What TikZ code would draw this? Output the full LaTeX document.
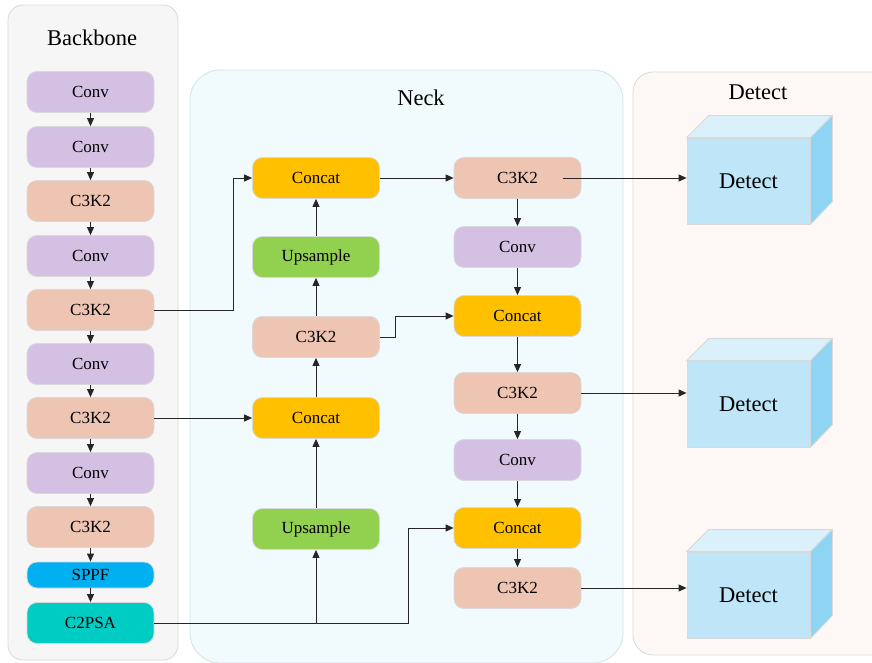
\documentclass[tikz,border=0pt]{standalone}
\usepackage{fontspec}
\setmainfont{Liberation Serif}
\usetikzlibrary{arrows.meta,calc}
\definecolor{convc}{HTML}{D4C0E2}
\definecolor{c3kc}{HTML}{EEC4B3}
\definecolor{sppfc}{HTML}{00B0F0}
\definecolor{psac}{HTML}{00CCC4}
\definecolor{catc}{HTML}{FFC000}
\definecolor{upc}{HTML}{92D050}
\definecolor{detfront}{HTML}{BEE6F8}
\definecolor{dettop}{HTML}{DAF0FB}
\definecolor{detside}{HTML}{8DD5F3}
\definecolor{boxline}{HTML}{D9D9D9}
\definecolor{bbfill}{HTML}{F6F6F6}
\definecolor{neckfill}{HTML}{F1FAFD}
\definecolor{neckline}{HTML}{D5E2E8}
\definecolor{detfill}{HTML}{FDF8F6}
\begin{document}
\begin{tikzpicture}[x=1pt,y=-1pt,
  blk/.style={draw=boxline, line width=0.8pt, rounded corners=10pt, minimum width=127pt, minimum height=41pt, inner sep=0pt, font=\fontsize{17}{20}\selectfont},
  conv/.style={blk, fill=convc},
  ck/.style={blk, fill=c3kc},
  cat/.style={blk, fill=catc},
  ups/.style={blk, fill=upc},
  ttl/.style={font=\fontsize{22.5}{26}\selectfont, inner sep=0pt},
  detbox/.style={draw=boxline, line width=0.8pt, fill=detfront, minimum width=123pt, minimum height=86pt, inner sep=0pt, font=\fontsize{22.5}{26}\selectfont},
  arr/.style={-{Triangle[length=8pt,width=7pt]}, line width=0.9pt, draw=black!85}
]
\useasboundingbox (0,0) rectangle (872,663);
% panels
\draw[boxline, fill=bbfill, line width=0.8pt, rounded corners=15pt] (8,5) rectangle (178,660);
\draw[neckline, fill=neckfill, line width=0.8pt, rounded corners=30pt] (190,70) rectangle (623,663);
\draw[boxline, fill=detfill, line width=0.8pt, rounded corners=20pt] (633,72) rectangle (900,655);
\node[ttl] (tbb) at (92,38) {Backbone};
\node[ttl] (tneck) at (421,98) {Neck};
\node[ttl] (tdet) at (758,92) {Detect};
% backbone
\node[conv] (b1) at (90.5,92) {Conv};
\node[conv] (b2) at (90.5,147) {Conv};
\node[ck] (b3) at (90.5,201) {C3K2};
\node[conv] (b4) at (90.5,256) {Conv};
\node[ck] (b5) at (90.5,310) {C3K2};
\node[conv] (b6) at (90.5,364) {Conv};
\node[ck] (b7) at (90.5,418) {C3K2};
\node[conv] (b8) at (90.5,473) {Conv};
\node[ck] (b9) at (90.5,527) {C3K2};
\node[blk, fill=sppfc, minimum height=26pt] (b10) at (90.5,575) {SPPF};
\node[blk, fill=psac] (b11) at (90.5,623) {C2PSA};
% neck left
\node[cat] (nc1) at (316,178) {Concat};
\node[ups] (nu1) at (316,257) {Upsample};
\node[ck] (n3) at (316,337) {C3K2};
\node[cat] (nc2) at (316,418) {Concat};
\node[ups] (nu2) at (316,529) {Upsample};
% neck right
\node[ck] (rc1) at (517.5,178) {C3K2};
\node[conv] (rc2) at (517.5,247) {Conv};
\node[cat] (rc3) at (517.5,316) {Concat};
\node[ck] (rc4) at (517.5,393) {C3K2};
\node[conv] (rc5) at (517.5,460) {Conv};
\node[cat] (rc6) at (517.5,528) {Concat};
\node[ck] (rc7) at (517.5,588) {C3K2};
% detect boxes
\foreach \n/\y in {det1/181, det2/404, det3/595}{
  \node[detbox] (\n) at (748.5,\y) {Detect};
  \draw[boxline, line width=0.8pt, fill=dettop] (\n.north west) -- ++(22,-22) -- ++(123,0) -- (\n.north east) -- cycle;
  \draw[boxline, line width=0.8pt, fill=detside] (\n.north east) -- ++(22,-22) -- ++(0,86) -- (\n.south east) -- cycle;
}
% backbone arrows
\foreach \a/\b in {b1/b2,b2/b3,b3/b4,b4/b5,b5/b6,b6/b7,b7/b8,b8/b9,b9/b10,b10/b11}{
  \draw[arr] (\a.south) -- (\b.north);
}
% lateral connections
\draw[arr] (b5.east) -- ++(79,0) |- (nc1.west);
\draw[arr] (b7.east) -- (nc2.west);
\draw[arr] (b11.east) -| (nu2.south);
\draw[arr] (b11.east) -- ++(254,0) |- (rc6.west);
% neck left column
\draw[arr] (nu2.north) -- (nc2.south);
\draw[arr] (nc2.north) -- (n3.south);
\draw[arr] (n3.north) -- (nu1.south);
\draw[arr] (nu1.north) -- (nc1.south);
\draw[arr] (n3.east) -- ++(16,0) |- (rc3.west);
\draw[arr] (nc1.east) -- (rc1.west);
% neck right column
\foreach \a/\b in {rc1/rc2,rc2/rc3,rc3/rc4,rc4/rc5,rc5/rc6,rc6/rc7}{
  \draw[arr] (\a.south) -- (\b.north);
}
% to detect
\draw[arr] ($(rc1.east)+(-18,0)$) -- (rc1.east -| det1.west);
\draw[arr] (rc4.east) -- (rc4.east -| det2.west);
\draw[arr] (rc7.east) -- (rc7.east -| det3.west);
\end{tikzpicture}
\end{document}
